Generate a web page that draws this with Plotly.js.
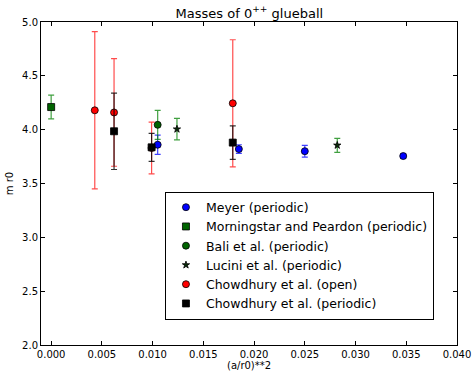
<!DOCTYPE html>
<html>
<head>
<meta charset="utf-8">
<script src="https://cdn.plot.ly/plotly-3.0.1.min.js"></script>
<style>html,body{margin:0;padding:0;background:#fff;}#chart{width:475px;height:372px;}</style>
</head>
<body>
<div id="chart"></div>
<script>
// Meyer (periodic)
const meyerX = [0.0105, 0.0185, 0.0250, 0.0347];
const meyerY = [3.86, 3.82, 3.80, 3.755];
const meyerErr = [0.09, 0.04, 0.055, 0.02];
// Morningstar and Peardon (periodic)
const morningX = [0.0];
const morningY = [4.21];
const morningErr = [0.11];
// Bali et al. (periodic)
const baliX = [0.0105];
const baliY = [4.045];
const baliErr = [0.135];
// Lucini et al. (periodic)
const luciniX = [0.0124, 0.0282];
const luciniY = [4.005, 3.855];
const luciniErr = [0.10, 0.065];
// Chowdhury et al. (open)
const chowOpenX = [0.0043, 0.0062, 0.0099, 0.0179];
const chowOpenY = [4.18, 4.16, 3.83, 4.245];
const chowOpenErr = [0.73, 0.50, 0.24, 0.59];
// Chowdhury et al. (periodic)
const chowPerX = [0.0062, 0.0099, 0.0179];
const chowPerY = [3.985, 3.836, 3.88];
const chowPerErr = [0.355, 0.13, 0.155];

const xTicks = [0.000, 0.005, 0.010, 0.015, 0.020, 0.025, 0.030, 0.035, 0.040];
const yTicks = [2.0, 2.5, 3.0, 3.5, 4.0, 4.5, 5.0];
const xTitle = '(a/r0)**2';
const yTitle = 'm r0';

function tr(name, x, y, err, symbol, fill, errColor, size) {
  return {
    type: 'scatter', mode: 'markers', name: name, x: x, y: y,
    marker: {symbol: symbol, color: fill, size: size || 7, line: {color: '#000', width: 0.8}},
    error_y: {type: 'data', array: err, visible: true, color: errColor, thickness: 1.2, width: 3}
  };
}

const data = [
  tr('Meyer (periodic)', meyerX, meyerY, meyerErr, 'circle', '#0000ff', 'rgba(0,0,255,0.75)'),
  tr('Morningstar and Peardon (periodic)', morningX, morningY, morningErr, 'square', '#006400', 'rgba(0,128,0,0.75)'),
  tr('Bali et al. (periodic)', baliX, baliY, baliErr, 'circle', '#006400', 'rgba(0,128,0,0.75)'),
  tr('Lucini et al. (periodic)', luciniX, luciniY, luciniErr, 'star', '#0a2a0a', 'rgba(0,128,0,0.75)', 5.5),
  tr('Chowdhury et al. (open)', chowOpenX, chowOpenY, chowOpenErr, 'circle', '#ff0000', 'rgba(255,0,0,0.7)'),
  tr('Chowdhury et al. (periodic)', chowPerX, chowPerY, chowPerErr, 'square', '#000000', 'rgba(0,0,0,0.8)')
];

const axisCommon = {
  showgrid: false, zeroline: false, showline: true, linecolor: '#000', linewidth: 1,
  mirror: 'allticks', ticks: 'inside', ticklen: 4, tickwidth: 1, tickcolor: '#000',
  tickfont: {family: 'DejaVu Sans', size: 10, color: '#000'}
};

const layout = {
  width: 475, height: 372,
  margin: {l: 41, r: 18, t: 22, b: 27},
  paper_bgcolor: '#fff', plot_bgcolor: '#fff',
  font: {family: 'DejaVu Sans', color: '#000'},
  title: {text: 'Masses of 0<sup>++</sup> glueball', font: {family: 'DejaVu Sans', size: 13, color: '#000'},
          x: 0.525, xanchor: 'center', y: 0.965, yanchor: 'middle'},
  xaxis: Object.assign({}, axisCommon, {
    range: [-0.001, 0.040], tickvals: xTicks, ticktext: xTicks.map(v => v.toFixed(3))
  }),
  yaxis: Object.assign({}, axisCommon, {
    range: [2.0, 5.0], tickvals: yTicks, ticktext: yTicks.map(v => v.toFixed(1)),
    title: {text: yTitle, font: {family: 'DejaVu Sans', size: 10}, standoff: 6}
  }),
  annotations: [{
    text: xTitle, xref: 'paper', yref: 'paper', x: 0.5, y: -0.062,
    xanchor: 'center', yanchor: 'middle', showarrow: false,
    font: {family: 'DejaVu Sans', size: 10, color: '#000'}
  }],
  showlegend: true,
  legend: {
    x: 0.298, y: 0.475, xanchor: 'left', yanchor: 'top',
    bgcolor: '#fff', bordercolor: '#000', borderwidth: 1,
    font: {family: 'DejaVu Sans', size: 12.5, color: '#000'},
    tracegroupgap: 0, itemwidth: 30
  }
};

Plotly.newPlot('chart', data, layout, {displayModeBar: false, staticPlot: true});
</script>
</body>
</html>
